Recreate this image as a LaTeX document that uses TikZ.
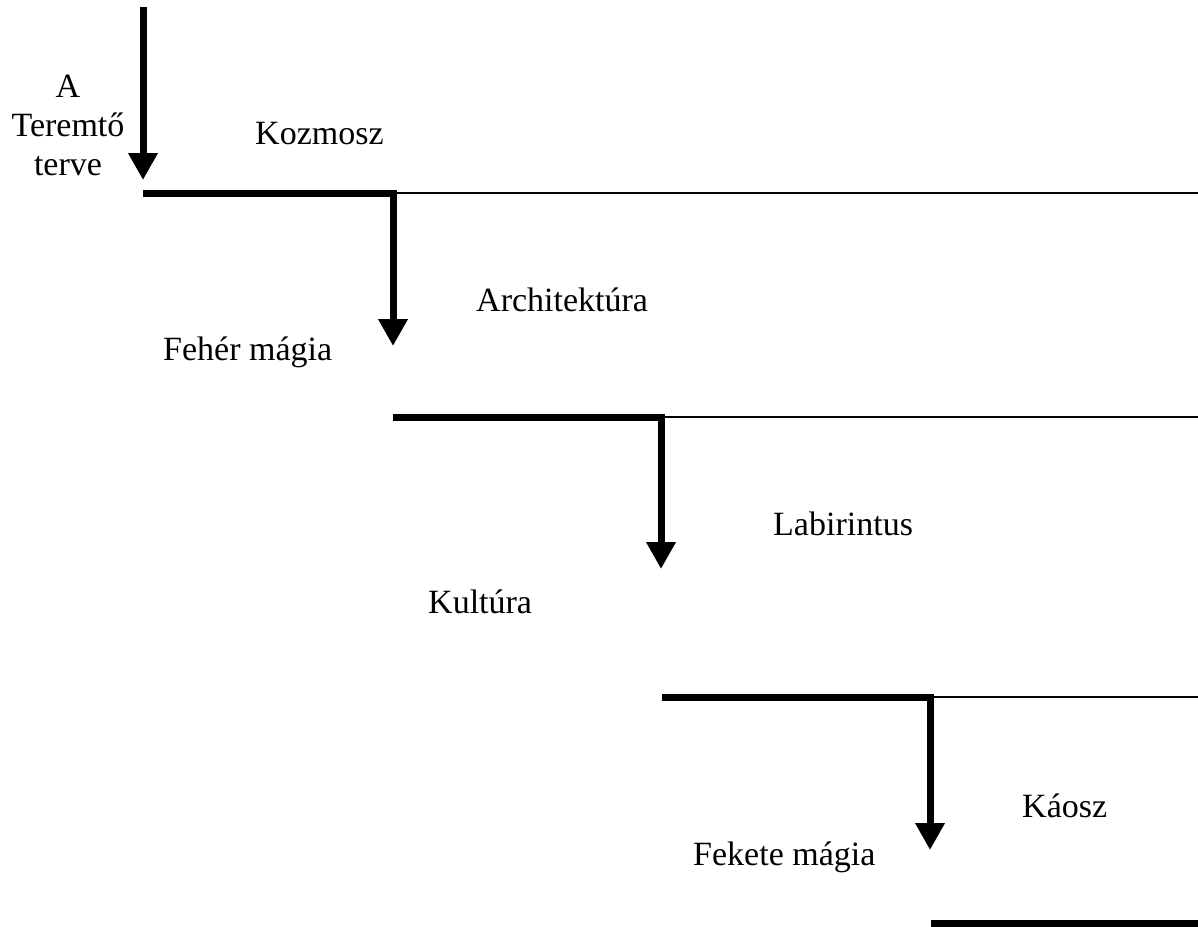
\documentclass[tikz,border=0pt]{standalone}
\usepackage{fontspec}
\setmainfont{Liberation Serif}
\usetikzlibrary{arrows.meta}
\begin{document}
\begin{tikzpicture}[x=1pt,y=-1pt,
  lbl/.style={inner sep=0pt,anchor=base west,font=\fontsize{34}{39}\selectfont},
  heavy/.style={line width=7pt,line join=miter,line cap=butt},
  heavyarrow/.style={heavy,-{Triangle[width=28pt,length=27pt]}},
  thinline/.style={line width=2pt}]
\useasboundingbox (0,0) rectangle (1198,926);
% corner coordinates
\coordinate (top) at (143,7);
\coordinate (t0) at (143,180);
\coordinate (s1) at (143,193);
\coordinate (c1) at (393,193);
\coordinate (r1) at (1198,193);
\coordinate (t1) at (393,346);
\coordinate (s2) at (393,417);
\coordinate (c2) at (661,417);
\coordinate (r2) at (1198,417);
\coordinate (t2) at (661,569);
\coordinate (s3) at (662,697);
\coordinate (c3) at (930,697);
\coordinate (r3) at (1198,697);
\coordinate (t3) at (930,850);
\coordinate (s4) at (931,923);
\coordinate (r4) at (1198,923);
% labels
\node[inner sep=0pt,anchor=base,align=center,font=\fontsize{34}{39}\selectfont] (plan) at (68,175) {A\\Teremtő\\terve};
\node[lbl] (kozmosz) at (255,144) {Kozmosz};
\node[lbl] (arch) at (476,311) {Architektúra};
\node[lbl] (feher) at (163,360) {Fehér mágia};
\node[lbl] (labir) at (773,535) {Labirintus};
\node[lbl] (kultura) at (428,613) {Kultúra};
\node[lbl] (kaosz) at (1022,817) {Káosz};
\node[lbl] (fekete) at (693,865) {Fekete mágia};
% thin lines
\draw[thinline] (c1) -- (r1);
\draw[thinline] (c2) -- (r2);
\draw[thinline] (c3) -- (r3);
% heavy steps
\draw[heavyarrow] (top) -- (t0);
\draw[heavyarrow] (s1) -- (c1) -- (t1);
\draw[heavyarrow] (s2) -- (c2) -- (t2);
\draw[heavyarrow] (s3) -- (c3) -- (t3);
\draw[heavy] (s4) -- (r4);
\end{tikzpicture}
\end{document}
